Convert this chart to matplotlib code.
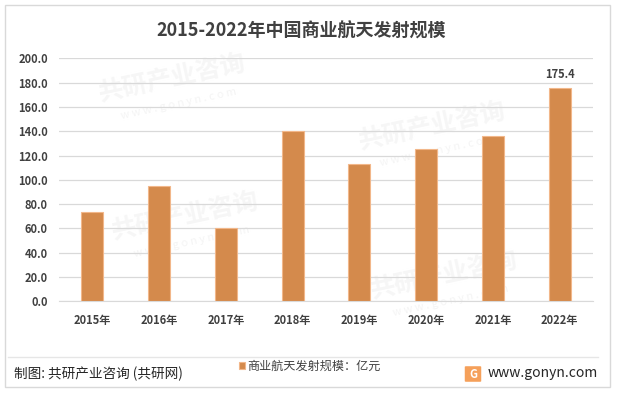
import matplotlib.pyplot as plt
from matplotlib.patches import Rectangle, FancyBboxPatch
import numpy as np

plt.rcParams['font.family'] = ['Noto Sans CJK SC', 'DejaVu Sans']

years = ['2015年', '2016年', '2017年', '2018年', '2019年', '2020年', '2021年', '2022年']
scale = [73.1, 94.8, 60.7, 140.0, 112.9, 125.2, 135.9, 175.4]
yticks = [0, 20, 40, 60, 80, 100, 120, 140, 160, 180, 200]

title = '2015-2022年中国商业航天发射规模'
legend_label = '商业航天发射规模：亿元'
source = '制图: 共研产业咨询 (共研网)'
site = 'www.gonyn.com'

bar_color = '#D48A4C'
txt_color = '#404040'

fig = plt.figure(figsize=(6.17, 3.93), dpi=100)

# faint watermarks, kept well inside the frame
marks = [(0.28, 0.80), (0.70, 0.68), (0.30, 0.45), (0.72, 0.30)]
for mx, my in marks:
    fig.text(mx, my, '共研产业咨询', fontsize=18, fontweight='bold', color='#f6f6f6',
             rotation=12, ha='center', va='center', zorder=-5)
    fig.text(mx + 0.01, my - 0.065, 'w w w . g o n y n . c o m', fontsize=8, color='#f4f4f4',
             rotation=12, ha='center', va='center', zorder=-5)

# outer border
fig.patches.append(Rectangle((5 / 617, 1 - 387 / 393), 605 / 617, 382 / 393,
                             transform=fig.transFigure, fill=False,
                             edgecolor='#d9d9d9', linewidth=1, zorder=1))

ax = fig.add_axes([0.0956, 0.2333, 0.8655, 0.6183])
ax.set_facecolor('none')
ax.set_zorder(2)

x = np.arange(len(years))
bars = ax.bar(x, scale, width=0.33, color=bar_color, edgecolor='#F2B78A',
              linewidth=0.8, zorder=3, label=legend_label)

ax.set_xlim(-0.5, len(years) - 0.5)
ax.set_ylim(0, 200)
ax.set_yticks(yticks)
ax.set_yticklabels(['%.1f' % v for v in yticks])
ax.set_xticks(x)
ax.set_xticklabels(years)
ax.grid(axis='y', color='#d9d9d9', linewidth=0.9, zorder=0)
for s in ['top', 'right', 'left']:
    ax.spines[s].set_visible(False)
ax.spines['bottom'].set_color('#d9d9d9')
ax.tick_params(length=0, labelsize=8, labelcolor=txt_color)
ax.tick_params(axis='x', pad=9)
ax.tick_params(axis='y', pad=8)
for lab in ax.get_xticklabels() + ax.get_yticklabels():
    lab.set_fontweight('bold')

ax.annotate('175.4', (x[-1], scale[-1]), xytext=(0, 5), textcoords='offset points',
            ha='center', va='bottom', fontsize=8, fontweight='bold', color=txt_color)

fig.text(301 / 617, 1 - 31 / 393, title, fontsize=13, fontweight='bold',
         color=txt_color, ha='center', va='center')

leg = fig.legend(handles=[bars], labels=[legend_label], loc='center',
                 bbox_to_anchor=(310 / 617, 1 - 366 / 393), frameon=False,
                 fontsize=8.7, handlelength=0.5, handleheight=0.5, handletextpad=0.2)
for t in leg.get_texts():
    t.set_color(txt_color)

# separator above footer
fig.add_artist(plt.Line2D([8 / 617, 598 / 617], [1 - 357 / 393, 1 - 357 / 393],
                          transform=fig.transFigure, color='#e6e6e6', linewidth=1))

fig.text(14 / 617, 1 - 374 / 393, source, fontsize=9.8, color='#262626',
         ha='left', va='center')

# site logo
fig.patches.append(FancyBboxPatch((466 / 617, 1 - 381 / 393), 14 / 617, 14 / 393,
                                  boxstyle='round,pad=0.002', transform=fig.transFigure,
                                  facecolor='#F5A05A', edgecolor='none'))
fig.text(473 / 617, 1 - 374 / 393, 'G', fontsize=8, fontweight='bold', color='white',
         ha='center', va='center')
fig.text(598 / 617, 1 - 373 / 393, site, fontsize=10, color='#262626',
         ha='right', va='center')

fig.savefig('out.png', dpi=100)
